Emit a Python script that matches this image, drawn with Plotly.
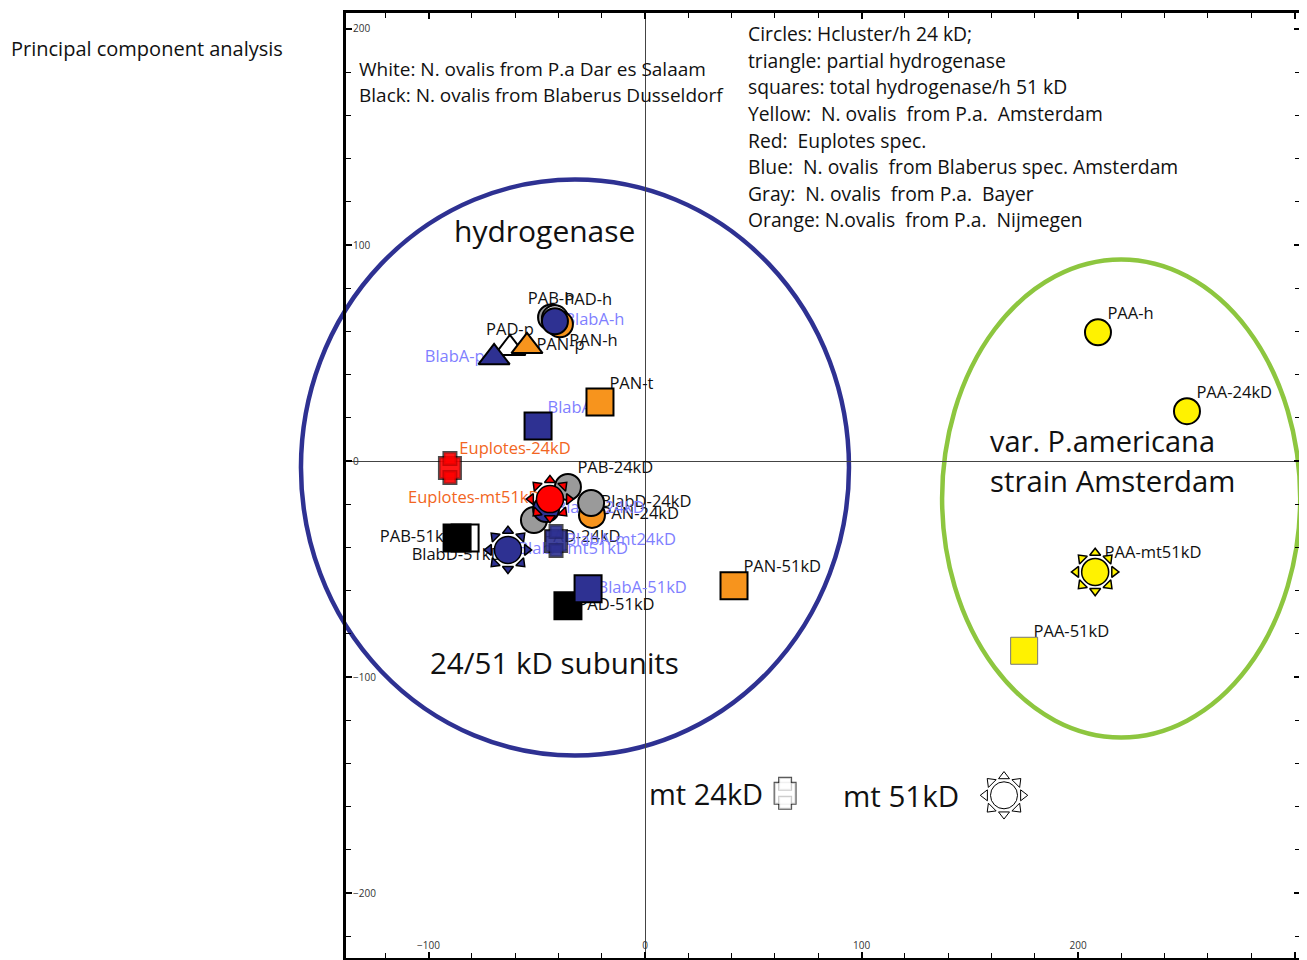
import plotly.graph_objects as go

# ---------------- data ----------------
point_names = ["PAB-h", "PAD-h", "PAN-h", "BlabA-h",
               "PAD-p", "BlabA-p", "PAN-p",
               "BlabA-t", "PAN-t",
               "Euplotes-24kD",
               "PAN-24kD", "BlabD-24kD", "PAB-24kD", "PAD-24kD", "BlabA-24kD",
               "Euplotes-mt51kD",
               "PAB-51kD", "BlabD-51kD",
               "BlabA-mt51kD", "BlabA-mt24kD",
               "PAD-51kD", "BlabA-51kD", "PAN-51kD",
               "PAA-h", "PAA-24kD", "PAA-mt51kD", "PAA-51kD"]
pc1 = [-43.4, -41.6, -39.3, -41.6,
       -62.4, -69.7, -54.5,
       -49.4, -20.8,
       -90.1,
       -24.5, -24.9, -35.6, -51.3, -45.7,
       -43.9,
       -83.1, -86.8,
       -63.3, -41.1,
       -35.6, -26.3, 41.1,
       209.2, 250.3, 207.9, 175.1]
pc2 = [66.5, 66.1, 63.3, 64.7,
       52.2, 48.0, 53.1,
       16.2, 27.3,
       -3.2,
       -24.9, -19.4, -12.0, -27.3, -22.2,
       -17.6,
       -35.6, -35.6,
       -41.1, -37.0,
       -67.0, -59.1, -57.7,
       59.6, 23.1, -51.3, -87.8]
strain = ["gray", "white", "orange", "blue",
          "white", "blue", "orange",
          "blue", "orange",
          "red",
          "orange", "gray", "gray", "gray", "blue",
          "red",
          "white", "black",
          "blue", "blue",
          "black", "blue", "orange",
          "yellow", "yellow", "yellow", "yellow"]
subunit = ["circle", "circle", "circle", "circle",
           "triangle", "triangle", "triangle",
           "square", "square",
           "mt24",
           "circle", "circle", "circle", "circle", "circle",
           "mt51",
           "square", "square",
           "mt51", "mt24",
           "square", "square", "square",
           "circle", "circle", "mt51", "square"]

# symbol key at the bottom
key_labels = ["mt 24kD", "mt 51kD"]
key_shapes = ["mt24", "mt51"]
key_x = [64.7, 165.8]
key_y = [-153.8, -154.7]

legend_left = ["White: N. ovalis from P.a Dar es Salaam",
               "Black: N. ovalis from Blaberus Dusseldorf"]
legend_right = ["Circles: Hcluster/h 24 kD;",
                "triangle: partial hydrogenase",
                "squares: total hydrogenase/h 51 kD",
                "Yellow:\u00a0 N. ovalis\u00a0 from P.a.\u00a0 Amsterdam",
                "Red:\u00a0 Euplotes spec.",
                "Blue:\u00a0 N. ovalis\u00a0 from Blaberus spec. Amsterdam",
                "Gray:\u00a0 N. ovalis\u00a0 from P.a.\u00a0 Bayer",
                "Orange: N.ovalis\u00a0 from P.a.\u00a0 Nijmegen"]

# group outlines (ellipses, data units)
blue_ring = dict(x0=-158.9, x1=94.2, y0=-136.3, y1=130.3)
green_ring = dict(x0=137.2, x1=302.6, y0=-127.9, y1=93.3)

# ---------------- styles ----------------
XR = [-138.1, 302.5]
YR = [-230.0, 207.4]
FONT = "Open Sans"
FILL = {"gray": "#9a9a9a", "white": "#ffffff", "orange": "#F7941D", "blue": "#2E3192",
        "red": "#FF0000", "yellow": "#FFF200", "black": "#000000"}
LABEL_COLOR = {"blue": "#7F7FFF", "red": "#F26522"}
LABEL_POS = {"PAB-h": "top center", "PAD-h": "top right", "PAN-h": "bottom right",
             "BlabA-h": "middle right", "PAD-p": "top center", "BlabA-p": "middle left",
             "PAN-p": "middle right", "BlabA-t": "top right", "PAN-t": "top right",
             "Euplotes-24kD": "top right", "PAN-24kD": "middle right",
             "BlabD-24kD": "middle right", "PAB-24kD": "top right",
             "PAD-24kD": "bottom right", "BlabA-24kD": "middle right",
             "Euplotes-mt51kD": "middle left", "PAB-51kD": "middle left",
             "BlabD-51kD": "bottom center", "BlabA-mt51kD": "middle right",
             "BlabA-mt24kD": "middle right", "PAD-51kD": "middle right",
             "BlabA-51kD": "middle right", "PAN-51kD": "top right",
             "PAA-h": "top right", "PAA-24kD": "top right",
             "PAA-mt51kD": "top right", "PAA-51kD": "top right"}
LABEL_OFFSET = 13.5
LABEL_SIZE = 16.5

fig = go.Figure()

# point labels first, so markers cover them as in the original
for col in ["#111111", LABEL_COLOR["blue"], LABEL_COLOR["red"]]:
    idx = [i for i, s in enumerate(strain) if LABEL_COLOR.get(s, "#111111") == col]
    fig.add_trace(go.Scatter(
        x=[pc1[i] for i in idx], y=[pc2[i] for i in idx],
        text=[point_names[i] for i in idx],
        textposition=[LABEL_POS[point_names[i]] for i in idx],
        mode="markers+text", cliponaxis=False,
        marker=dict(size=LABEL_OFFSET, color="rgba(0,0,0,0)", line=dict(width=0)),
        textfont=dict(family=FONT, size=LABEL_SIZE, color=col),
        hoverinfo="skip", showlegend=False))


def add_sun(x, y, fill, lw):
    for a in range(0, 360, 45):
        fig.add_trace(go.Scatter(
            x=[x], y=[y], mode="markers", cliponaxis=False, hoverinfo="skip", showlegend=False,
            marker=dict(symbol="triangle-down", size=9.5, angle=a, standoff=19,
                        color=fill, line=dict(color="#000", width=lw))))
    fig.add_trace(go.Scatter(
        x=[x], y=[y], mode="markers", cliponaxis=False, hoverinfo="skip", showlegend=False,
        marker=dict(symbol="circle", size=27, color=fill, line=dict(color="#000", width=lw))))


def add_mt24(x, y, fill, lw):
    for w in (2 * lw, 0):
        fig.add_trace(go.Scatter(
            x=[x, x, x], y=[y, y, y], mode="markers", cliponaxis=False,
            hoverinfo="skip", showlegend=False,
            marker=dict(symbol="square", size=[21, 12, 12], angle=[0, 0, 180],
                        standoff=[0, 9.5, 9.5], color=fill,
                        line=dict(color="#000", width=w))))


SYM = {"circle": ("circle", 26), "triangle": ("triangle-up", 27), "square": ("square", 27)}
for n, x, y, s, sh in zip(point_names, pc1, pc2, strain, subunit):
    if sh == "mt51":
        add_sun(x, y, FILL[s], 1.5)
    elif sh == "mt24":
        add_mt24(x, y, FILL[s], 1.5)
    else:
        sym, size = SYM[sh]
        line = dict(color="#000", width=2)
        if s == "yellow" and sh == "square":
            line = dict(color="#777", width=1)
        fig.add_trace(go.Scatter(
            x=[x], y=[y], mode="markers", cliponaxis=False, name=n,
            hoverinfo="name", showlegend=False,
            marker=dict(symbol=sym, size=size, color=FILL[s], line=line)))

# symbol key
for lab, sh, x, y in zip(key_labels, key_shapes, key_x, key_y):
    if sh == "mt51":
        add_sun(x, y, "#ffffff", 1)
    else:
        add_mt24(x, y, "#ffffff", 1)

# ---------------- layout ----------------
def dom(v, r):
    return (v - r[0]) / (r[1] - r[0])

shapes = []
for ring, col in [(blue_ring, "#2E3192"), (green_ring, "#8DC63F")]:
    shapes.append(dict(type="circle", xref="x domain", yref="y domain", layer="below",
                       x0=dom(ring["x0"], XR), x1=dom(ring["x1"], XR),
                       y0=dom(ring["y0"], YR), y1=dom(ring["y1"], YR),
                       line=dict(color=col, width=4.5)))

ann = []
def text(x, y, s, size, xanchor="left", color="#111", xref="x", yref="y"):
    ann.append(dict(x=x, y=y, xref=xref, yref=yref, text=s, showarrow=False,
                    xanchor=xanchor, yanchor="middle",
                    font=dict(family=FONT, size=size, color=color)))

for i, s in enumerate(legend_left):
    text(-133.0, 181.5 - i * 12.0, s, 19)
for i, s in enumerate(legend_right):
    text(46.6, 197.8 - i * 12.3, s, 19.3)

text(-46.2, 106.7, "hydrogenase", 30, "center")
text(-41.6, -93.0, "24/51 kD subunits", 29.5, "center")
text(158.3, 9.3, "var. P.americana", 29)
text(158.3, -9.3, "strain Amsterdam", 29.3)
text(55.5, key_y[0], key_labels[0], 29, "right")
text(90.5, key_y[1], key_labels[1], 29.5, "left")
text(-0.3533, 0.962, "Principal component analysis", 20, xref="paper", yref="paper")

axis_common = dict(showgrid=False, zeroline=True, zerolinecolor="#444", zerolinewidth=1,
                   showline=True, linecolor="#000", linewidth=3, mirror="allticks",
                   ticks="inside", ticklen=6, tickwidth=1.5, tickcolor="#000",
                   ticklabelposition="inside", dtick=100, tick0=0,
                   tickfont=dict(family=FONT, size=10, color="#333"),
                   minor=dict(dtick=20, ticks="inside", ticklen=5, tickwidth=1,
                              tickcolor="#000", showgrid=False))

# the page adds an 8 px body margin, so the figure is sized to land the frame where the reference has it
fig.update_layout(
    width=1299, height=952,
    margin=dict(l=338, r=7, t=3, b=2),
    paper_bgcolor="#ffffff", plot_bgcolor="#ffffff",
    xaxis=dict(range=XR, **axis_common),
    yaxis=dict(range=YR, **axis_common),
    shapes=shapes, annotations=ann, showlegend=False,
    font=dict(family=FONT),
)

fig.write_html("out.html")
